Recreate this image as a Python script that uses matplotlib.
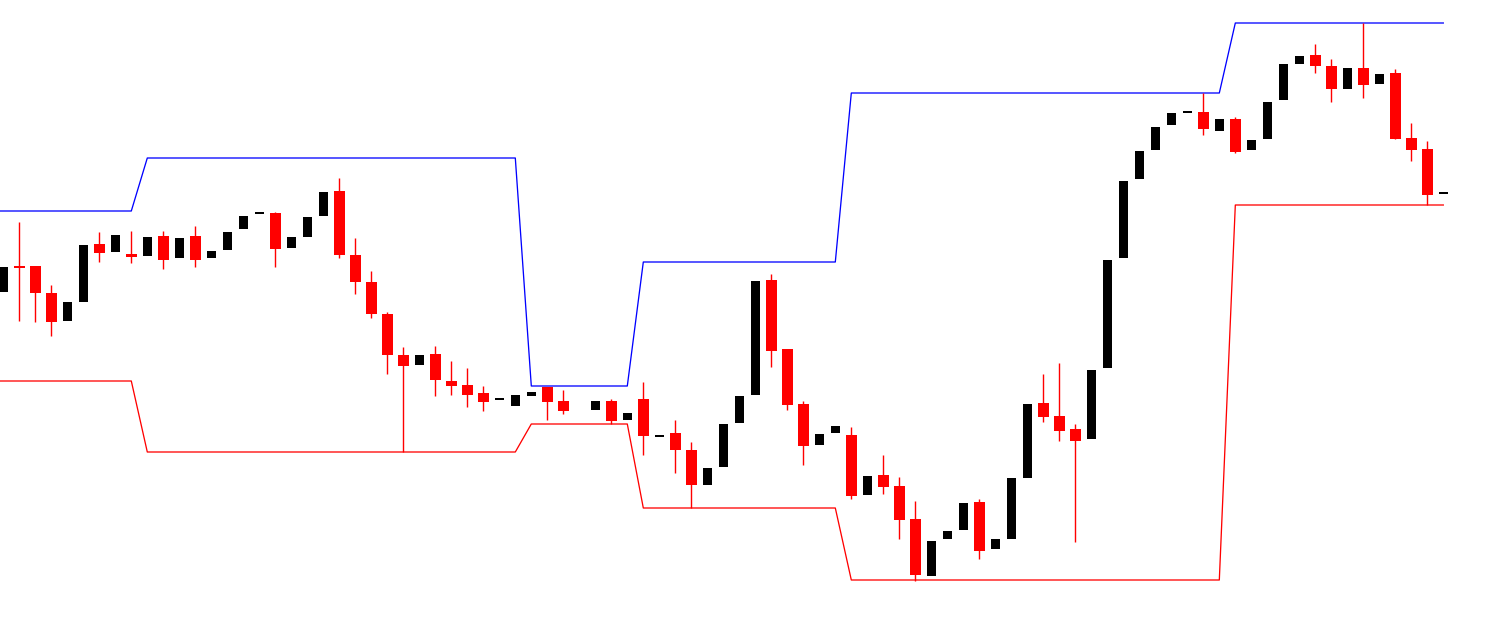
import numpy as np
import matplotlib.pyplot as plt

nan = np.nan

# bar data (price units, one bar per slot; slot 36 has no bar)
opens = [334, 360, 360, 333, 305, 324, 382, 374, 372, 370,
         390, 368, 390, 368, 376, 397, 413, 413, 378, 389,
         410, 435, 371, 344, 312, 271, 261, 272, 245, 241,
         233, 227, 220, 230, 239, 225, nan, 216, 225, 206,
         227, 190, 193, 176, 141, 159, 203, 231, 346, 277,
         222, 181, 193, 191, 131, 151, 140, 107, 50, 87,
         96, 124, 77, 87, 148, 223, 210, 197, 187, 258,
         368, 447, 476, 501, 514, 514, 495, 507, 476, 487,
         526, 562, 571, 560, 537, 558, 542, 553, 488, 477,
         433]
closes = [359, 358, 333, 304, 324, 381, 373, 391, 369, 389,
          366, 388, 366, 375, 394, 410, 413, 377, 389, 409,
          434, 371, 344, 312, 271, 260, 271, 246, 240, 231,
          224, 227, 231, 234, 224, 215, nan, 225, 205, 213,
          190, 190, 176, 141, 158, 202, 230, 345, 275, 221,
          180, 192, 200, 130, 150, 139, 106, 51, 85, 95,
          123, 75, 87, 148, 222, 209, 195, 185, 256, 366,
          445, 475, 499, 513, 514, 497, 507, 474, 486, 524,
          562, 570, 560, 537, 558, 541, 552, 487, 476, 431,
          433]
highs = [359, 404, 360, 341, 324, 381, 394, 391, 395, 389,
         395, 388, 400, 375, 394, 410, 413, 414, 389, 409,
         434, 448, 388, 355, 314, 279, 271, 280, 265, 258,
         240, 227, 231, 234, 239, 236, nan, 225, 227, 213,
         244, 190, 206, 184, 158, 202, 230, 345, 352, 277,
         225, 192, 200, 199, 150, 171, 149, 125, 85, 95,
         123, 127, 87, 148, 222, 252, 263, 202, 256, 366,
         445, 475, 499, 513, 514, 533, 507, 509, 486, 524,
         562, 570, 582, 567, 558, 603, 552, 557, 503, 485,
         433]
lows = [334, 305, 304, 290, 305, 324, 364, 374, 363, 370,
        357, 368, 359, 368, 376, 397, 413, 359, 378, 389,
        410, 368, 332, 308, 252, 174, 261, 230, 231, 219,
        215, 227, 220, 230, 206, 212, nan, 216, 202, 206,
        171, 190, 153, 118, 141, 159, 203, 231, 259, 216,
        161, 181, 193, 127, 131, 132, 87, 45, 50, 87,
        96, 67, 77, 87, 148, 204, 185, 84, 187, 258,
        368, 447, 476, 501, 514, 491, 495, 473, 476, 487,
        526, 562, 553, 524, 537, 528, 542, 487, 465, 421,
        433]

# channel levels as (last bar index, value) segments
upper_levels = [(8, 415), (32, 468), (39, 240), (52, 364), (76, 533), (90, 603)]
lower_levels = [(8, 245), (32, 174), (39, 202), (52, 118), (76, 46), (90, 421)]


def expand(levels):
    out = []
    start = 0
    for end, val in levels:
        out += [val] * (end - start + 1)
        start = end + 1
    return np.array(out, dtype=float)


o = np.array(opens, dtype=float)
c = np.array(closes, dtype=float)
h = np.array(highs, dtype=float)
l = np.array(lows, dtype=float)
x = np.arange(len(o))
upper = expand(upper_levels)
lower = expand(lower_levels)

fig = plt.figure(figsize=(15.07, 6.26), dpi=100)
ax = fig.add_axes([0, 0, 1, 1])
ax.set_xlim(-0.206, 93.98)
ax.set_ylim(0, 626)
ax.axis('off')

px = 0.72  # one pixel in points

# channel lines, extended back one bar so they reach the left edge
xc = np.concatenate([[-1], x])
ax.plot(xc, np.concatenate([[upper[0]], upper]), color='#0000ff', lw=px * 1.3, zorder=1)
ax.plot(xc, np.concatenate([[lower[0]], lower]), color='#ff0000', lw=px * 1.3, zorder=1)

ok = ~np.isnan(o)
down = ok & (c < o)
up = ok & (c >= o)

# wicks (only down bars show them)
ax.vlines(x[down], l[down], h[down], color='#ff0000', lw=px * 1.4, zorder=2)

body_lo = np.minimum(o, c)
body_h = np.maximum(np.abs(c - o), 2)

ax.bar(x[down], body_h[down], bottom=body_lo[down], width=11 / 16,
       color='#ff0000', linewidth=0, zorder=3)
ax.bar(x[up], body_h[up], bottom=body_lo[up] - np.where(c[up] == o[up], 1, 0), width=9 / 16,
       color='#000000', linewidth=0, zorder=3)

fig.savefig('out.png', dpi=100, facecolor='white')
